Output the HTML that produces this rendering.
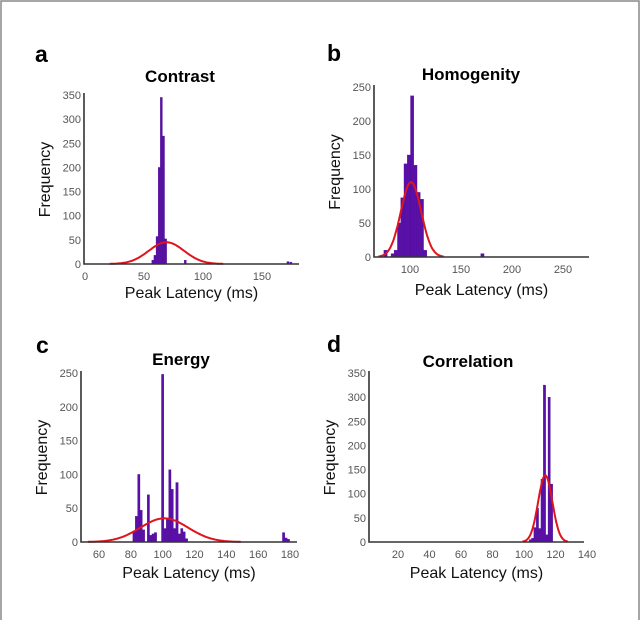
<!DOCTYPE html>
<html><head><meta charset="utf-8"><style>
body{margin:0;background:#fff}
svg{display:block;font-family:"Liberation Sans",Arial,sans-serif}
.tick{font-size:11px;fill:#555}
.alab{font-size:16px;fill:#111}
.title{font-size:17px;font-weight:bold;fill:#000}
.plet{font-size:23px;font-weight:bold;fill:#000}
</style></head><body>
<svg id="fig" width="640" height="620">
<rect x="1" y="1" width="638" height="640" fill="none" stroke="#888" stroke-width="1.5"/>
</svg>
<script>
// Panel a: Contrast
const aBinCenters=[57.5,59.3,61.1,62.9,64.7,66.5,68.3,85,172,174.5];
const aCounts=[8,18,57,200,345,265,52,8,5,4];
const aXTicks=[0,50,100,150];
const aYTicks=[0,50,100,150,200,250,300,350];
const aFit=[45,69,15];
// Panel b: Homogenity
const bBinCenters=[76,83,86,89.3,92.5,95.7,98.9,102.1,105.3,108.5,111.7,114.9,171];
const bCounts=[10,5,10,50,87,137,150,237,135,95,85,10,5];
const bXTicks=[100,150,200,250];
const bYTicks=[0,50,100,150,200,250];
const bFit=[110,101,10];
// Panel c: Energy
const cBinCenters=[82,83.5,85,86.5,88,91,92.5,94,95.5,100,101.5,103,104.5,106,107.5,109,110.5,112,113.5,115,176,177.5,179];
const cCounts=[15,38,100,47,18,70,10,12,14,248,20,35,107,78,20,88,12,20,15,5,14,6,4];
const cXTicks=[60,80,100,120,140,160,180];
const cYTicks=[0,50,100,150,200,250];
const cFit=[35,101,15];
// Panel d: Correlation
const dBinCenters=[104,105.5,107,108.5,110,111.5,113,114.5,116,117.5];
const dCounts=[5,8,30,70,28,130,325,15,300,120];
const dXTicks=[20,40,60,80,100,120,140];
const dYTicks=[0,50,100,150,200,250,300,350];
const dFit=[138,113.5,4.5];

const NS='http://www.w3.org/2000/svg';
const svg=document.getElementById('fig');
function mk(tag,attrs,parent){const e=document.createElementNS(NS,tag);for(const k in attrs)e.setAttribute(k,attrs[k]);(parent||svg).appendChild(e);return e;}

function panel(o){
  const g=mk('g',{});
  
  
  const X=v=>o.x0+(v-o.v0)*(o.x1-o.x0)/(o.v1-o.v0);
  const Y=v=>o.by-(v)*(o.by-o.ty)/o.ymax;
  o.centers.forEach((c,i)=>{
    if(!o.counts[i])return;
    const xl=X(c-o.bw/2),xr=X(c+o.bw/2);
    const r=mk('rect',{x:xl,y:Y(o.counts[i]),width:Math.max(0.8,xr-xl),height:o.by-Y(o.counts[i]),fill:'#5a10a8',stroke:'#4a0c90','stroke-width':0.3},g);
    
    
  });
  const [A,mu,s]=o.fit;let d='';
  for(let v=mu-3.2*s;v<=mu+3.2*s;v+=s/20){
    const yv=A*Math.exp(-0.5*((v-mu)/s)**2);
    d+=(d?'L':'M')+X(v).toFixed(1)+','+Y(yv).toFixed(1);
  }
  const p=mk('path',{d:d,fill:'none',stroke:'#e0141e','stroke-width':2},g);
  
  
  const ax=mk('path',{d:`M${o.ax},${o.ty-2}L${o.ax},${o.by}L${o.axEnd},${o.by}`,fill:'none',stroke:'#333','stroke-width':1.6},g);
  
  
  o.xt.forEach(v=>{
    const t=mk('text',{x:X(v),y:o.by+16,'text-anchor':'middle',class:'tick'},g);t.textContent=v;
    
    
  });
  o.yt.forEach(v=>{
    const t=mk('text',{x:o.ax-3,y:Y(v)+4,'text-anchor':'end',class:'tick'},g);t.textContent=v;
    
    
  });
  const xl=mk('text',{x:(o.ax+o.axEnd)/2,y:o.by+o.xlo,'text-anchor':'middle',class:'alab'},g);xl.textContent='Peak Latency (ms)';
  
  
  const yl=mk('text',{x:0,y:0,'text-anchor':'middle',class:'alab',transform:`translate(${o.ax-34},${(o.ty+o.by)/2}) rotate(-90)`},g);yl.textContent='Frequency';
  
  
  const ti=mk('text',{x:o.tx,y:o.tty,'text-anchor':'middle',class:'title'},g);ti.textContent=o.title;
  
  
  const pl=mk('text',{x:o.lx,y:o.ly,class:'plet'},g);pl.textContent=o.id;
  
  
}
panel({id:'a',title:'Contrast',centers:aBinCenters,counts:aCounts,bw:1.8,fit:aFit,xt:aXTicks,yt:aYTicks,
  x0:85,v0:0,x1:144,v1:50,ax:84,axEnd:299,by:264,ty:95,ymax:350,tx:180,tty:82,lx:35,ly:62,xlo:34});
panel({id:'b',title:'Homogenity',centers:bBinCenters,counts:bCounts,bw:3.2,fit:bFit,xt:bXTicks,yt:bYTicks,
  x0:410,v0:100,x1:563,v1:250,ax:374,axEnd:589,by:257,ty:87,ymax:250,tx:471,tty:80,lx:327,ly:61,xlo:38});
panel({id:'c',title:'Energy',centers:cBinCenters,counts:cCounts,bw:1.5,fit:cFit,xt:cXTicks,yt:cYTicks,
  x0:99,v0:60,x1:290,v1:180,ax:81,axEnd:297,by:542,ty:373,ymax:250,tx:181,tty:365,lx:36,ly:353,xlo:36});
panel({id:'d',title:'Correlation',centers:dBinCenters,counts:dCounts,bw:1.5,fit:dFit,xt:dXTicks,yt:dYTicks,
  x0:398,v0:20,x1:587,v1:140,ax:369,axEnd:584,by:542,ty:373,ymax:350,tx:468,tty:367,lx:327,ly:352,xlo:36});
</script>
</body></html>
